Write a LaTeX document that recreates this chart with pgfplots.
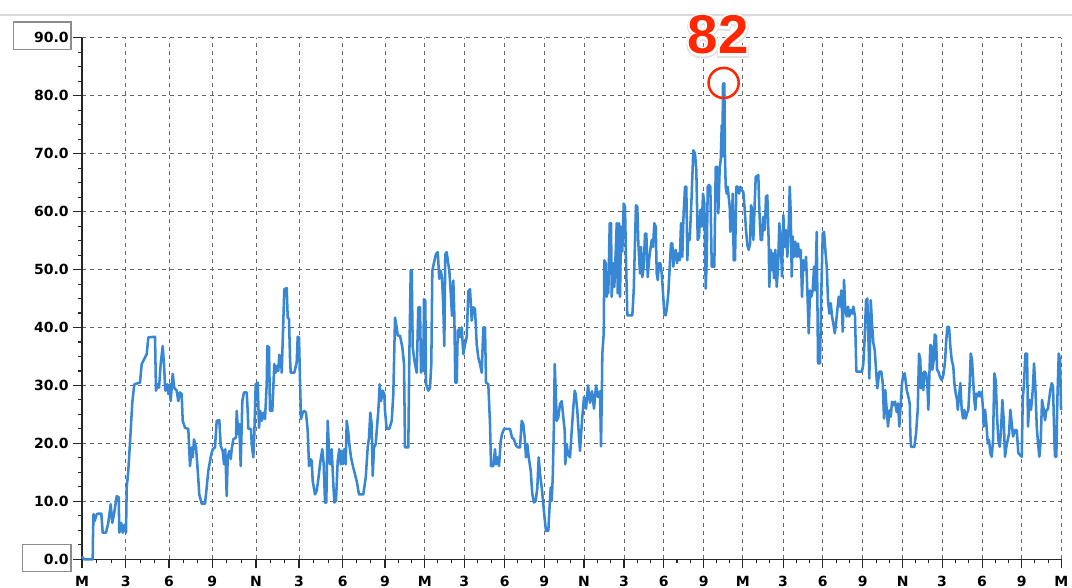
\documentclass[border=0pt]{standalone}
\usepackage{pgfplots}
\pgfplotsset{compat=1.18}
\usepackage{fontspec}
\setmainfont{DejaVu Sans}
\newfontfamily\libsans{Liberation Sans Bold}
\newfontfamily\halofont{Liberation Sans Bold}[FakeBold=8]
\newfontfamily\shadowfont{Liberation Sans Bold}[FakeBold=11]
\definecolor{lineblue}{RGB}{55,135,213}
\definecolor{annred}{RGB}{255,40,0}
\begin{document}
\begin{tikzpicture}
\useasboundingbox (-61.5pt,-21.5pt) rectangle (742.5pt,419.5pt);
\fill[white] (-61.5pt,-21.5pt) rectangle (742.5pt,419.5pt);
\draw[black!14, line width=1.2pt] (-61.5pt,408.2pt) -- (742.5pt,408.2pt);
\draw[black!45, line width=0.8pt] (-51.5pt,382.5pt) rectangle (-8.25pt,403pt);
\draw[black!45, line width=0.8pt] (-44.5pt,-8.8pt) rectangle (-8.25pt,11.25pt);
\begin{axis}[
  at={(0pt,0pt)}, anchor=south west,
  scale only axis, width=734.5pt, height=391.2pt,
  xmin=82, xmax=1061.3, ymin=0, ymax=90,
  axis lines=left, axis line style={-, draw=black!85, line width=1.1pt},
  xtick={82,125.7,169,212.3,256,299,342.7,385,424.7,464.3,504.7,544.3,584,624,663.7,703.7,742.7,783,822.7,862.7,902.7,942,982,1021.7,1061.3},
  xticklabels={M,3,6,9,N,3,6,9,M,3,6,9,N,3,6,9,M,3,6,9,N,3,6,9,M},
  minor xtick={96.6,111.1,140.1,154.6,183.4,197.9,226.9,241.4,270.3,284.7,313.6,328.1,356.8,370.9,398.2,411.5,437.9,451.1,477.8,491.2,517.9,531.1,557.5,570.8,597.3,610.7,637.2,650.5,677,690.4,716.7,729.7,756.1,769.6,796.2,809.5,836,849.4,876,889.4,915.8,928.9,955.3,968.7,995.2,1008.5,1034.9,1048.1},
  ytick={0,10,20,30,40,50,60,70,80,90},
  yticklabels={0.0,10.0,20.0,30.0,40.0,50.0,60.0,70.0,80.0,90.0},
  minor y tick num=3,
  tick align=outside,
  major tick length=6.75pt, minor tick length=3pt,
  tick style={black!85, line width=0.8pt},
  grid=major,
  major grid style={black!60, line width=0.75pt, dash pattern=on 3pt off 3pt},
  xticklabel style={font=\fontsize{10.5}{12}\selectfont\bfseries, anchor=north, inner sep=0pt, yshift=-5.5pt},
  yticklabel style={font=\fontsize{10.5}{12}\selectfont\bfseries, anchor=east, inner sep=0pt, xshift=-3pt},
  clip=false,
]
\addplot[lineblue, line width=1.9pt, line join=round] coordinates {
(82,0.5) (84,0) (92.7,0) (93,4) (93.5,7.8) (94.7,6.6) (96.7,7.8) (99.3,7.9) (101.3,7.9) (102.7,4.6) (106,4.6) (108.3,6.3) (110.7,9.5) (112.3,6.3) (114.3,8.1) (116.7,10.9) (118.7,10.7) (119.3,4.6) (121.3,6.3) (122.7,4.6) (124.7,6.0) (126,4.6) (126.7,12.4) (128.3,15.3) (130.7,22.2) (132.3,27.1) (134.3,30.2) (140,30.5) (141.7,33.7) (146.7,35.4) (148.3,38.3) (155,38.4) (156,29.1) (157.7,30.2) (159,29.6) (160.7,33.7) (162.7,36.8) (164,33.7) (165.3,29.1) (167.3,30.2) (168.3,28.5) (170,30.2) (170.7,27.3) (172.7,32.0) (174.3,29.6) (176.7,29.1) (178.3,27.3) (180,28.8) (181.7,28.5) (182.7,23.9) (185,22.7) (188.3,22.5) (190,16.1) (191.7,19.3) (192.7,17.6) (194,20.7) (196,19.3) (197.3,16.4) (199.3,11.2) (201.7,9.6) (205,9.6) (206.7,12.4) (208.3,15.3) (210.7,17.6) (212.7,19.0) (215,19.3) (216.7,23.9) (219.3,24.0) (220.7,19.6) (222.7,18.7) (224,16.4) (225.3,19.0) (226.7,10.9) (227.7,17.6) (229.3,18.7) (230.7,17.3) (231.7,19.0) (233.3,20.7) (236,21.0) (236.7,25.6) (238.3,21.6) (239.3,23.3) (240.7,16.1) (242.3,27.3) (244,28.8)
(246.7,28.8) (247.7,25.6) (248.3,22.5) (251,22.5) (251.7,19.9) (253.3,17.6) (254.3,21.6) (255.7,30.2) (257.7,30.5) (259,22.7) (260.3,25.6) (261.7,23.9) (263.3,25.3) (265,24.2) (266.7,30.2) (267.3,36.8) (269,36.6) (270,25.6) (272.3,25.6) (274.3,33.7) (275.7,32.2) (277,33.4) (278.3,32.5) (279.3,35.3) (281,34.8) (281.7,32.2) (283,39.4) (284.3,46.6) (286.7,46.8) (287.7,41.7) (289,41.5) (290,34.8) (290.7,32.2) (294.3,32.2) (296.7,34.0) (297.7,38.4) (299,38.3) (300,30.8) (301,24.2) (302.7,25.3) (304.3,25.6) (306,25.3) (307.7,22.2) (309,16.1) (310.3,17.3) (311.7,17.0) (312.7,13.5) (315,11.2) (316.7,11.8) (318.3,13.8) (320,16.4) (321,17.6) (322.3,19.0) (323.7,16.4) (325,9.8) (326.3,9.8) (327.7,23.9) (329,18.7) (330,16.4) (331.7,19.0) (333,14.1) (334.3,9.8) (336,10.1) (337.7,17.0) (339.3,19.0) (340.7,16.4) (341.7,18.7) (342.7,16.4) (344.3,19.0) (345.7,16.4) (346.7,23.9) (348.3,21.9) (349.3,19.9) (351,17.6) (353.3,15.8) (356.7,13.5) (359,11.2) (363.3,11.2) (365.7,14.1) (367.7,19.3) (369,21.0) (370.3,25.3) (371.7,23.3) (372.7,14.4) (374,19.3) (375.7,19.9) (376.7,22.2) (378.3,25.6) (379.7,30.2) (381,27.3) (382.7,29.1) (384.3,28.5) (385,25.6) (386.7,22.5) (389.3,22.5) (391.7,23.9) (393.3,28.5) (395,41.7) (396.7,40.0) (397.7,38.6) (400,38.6) (402.3,36.6) (404,33.7) (405,19.3) (408.3,19.3) (409.3,34.8) (410.7,49.8)
(411.7,49.8) (412.7,36.6) (414,34.8) (415,33.7) (416.7,32.2) (418.3,43.5) (420,43.5) (421,32.2) (422,37.7) (423.3,32.5) (424,44.9) (425.3,44.6) (426,30.2) (428.3,29.1) (430,29.6) (431.3,33.7) (432.3,49.8) (434,51.2) (436,52.7) (437.7,53.0) (439.3,48.4) (440.7,49.8) (442,48.6) (443.3,43.5) (444.3,36.8) (445.3,52.7) (446.7,53.0) (448.3,50.9) (449.3,49.8) (450.7,46.1) (452,42.0) (453.3,48.1) (454.3,42.3) (455.3,30.5) (456.7,30.5) (457.7,39.4) (459,39.7) (460,38.3) (461.7,40.0) (463.3,35.4) (465,37.1) (466.7,38.3) (468.3,46.3) (470,46.6) (471.7,41.2) (473.3,43.5) (475,43.2) (476.7,37.1) (478.3,34.8) (480,33.7) (481.7,32.2) (483.3,40.0) (485,40.0) (486,30.5) (488.3,30.2) (490,23.3) (491,16.1) (493.3,16.1) (495,19.0) (496,16.4) (497.3,17.6) (499,16.1) (500.7,20.4) (502,21.6) (504,22.5) (510,22.5) (512,21.0) (514,20.7) (516,19.6) (518.3,19.3) (520,19.3) (521.7,23.9) (523.3,23.3) (524.7,21.0) (526,17.6) (527.3,19.9) (528.7,17.6) (530.7,15.3) (532.3,11.2) (534,9.8) (535.7,10.1) (537.3,12.4) (538.7,17.6) (540,14.7) (541.7,12.4) (543.3,9.5) (544.7,6.9) (546,4.9) (548.3,4.9) (549.3,8.3) (550.7,12.4) (551.7,10.1) (552.7,14.1) (553.7,21.6) (554.7,33.7) (555.7,29.1) (556.7,23.9) (558.3,24.5) (560,26.8) (561.7,27.3) (563.3,24.5) (564.7,22.2) (565.3,16.4) (566.7,19.9) (568,18.1) (570,17.6) (571.7,22.2) (573.3,26.2) (574.7,29.1) (575.7,28.5) (577.3,25.6) (579,21.0) (580,18.7)
(582,24) (584,28) (586,26) (588,30) (590,27) (592,29) (594,26) (596,30) (598,28) (600,29) (601,19.5) (602,30.9)
(602.3,35.5) (603.7,39.0) (604.3,51.6) (605.7,51.1) (606.7,45.3) (607.7,48.2) (608.3,45.9) (609.7,58.0) (611,58.0) (611.7,45.3) (613.3,51.1) (614.3,47.0) (615.7,53.1) (616.7,58.0) (617.7,45.9) (619,58.0) (620,45.3) (621,57.4) (622.3,53.1) (623.7,61.4) (625,60.8) (626,51.6) (627.3,42.1) (632.3,42.1) (633.7,46.4) (635,55.1) (636,61.1) (637.3,60.8) (638.3,54.5) (640,49.3) (641,53.9) (642.3,48.7) (643.7,50.5) (645,56.2) (646.3,56.2) (647.7,48.7) (649,51.6) (650.3,53.4) (651.7,55.1) (653,53.9) (654.3,58.0) (655.7,57.4) (656.7,49.3) (657.7,48.2) (659,51.1) (660.3,51.1) (661.7,49.3) (663,45.9) (664.3,42.4) (665.7,42.1) (667,43.6) (668.3,45.9) (669.7,50.5) (671,54.5) (672.3,54.5) (673.3,50.5) (674.3,52.8) (675.7,53.4) (677,51.1) (678.3,52.8) (679.7,51.6) (681,58.0) (682.3,52.2) (683.3,58.5) (685,64.3) (686.3,64.3) (687.3,51.6) (688.3,56.2) (689.7,55.1) (691.7,63.1) (693.3,70.6) (695,70.0) (696.3,67.1) (697.7,55.1) (699,55.6) (700.3,60.3) (701.7,57.4) (703,63.1) (704.3,61.4) (705.7,46.7) (706.7,51.6) (707.7,64.3) (709,64.6) (710.3,64.3) (711.7,50.5) (714.3,50.5) (715.7,67.7) (717.3,67.7) (718.3,59.7) (719.7,67.7) (720.7,68.9) (721.7,74.9) (722.3,69.5) (723,82.1) (724.3,82.1) (725,68.9) (725.7,64.3) (726.7,63.1) (727.7,64.3) (728.3,63.1) (729.7,60.8) (730.3,56.5) (731.7,58.0) (732.7,63.1) (733.7,51.6) (735,51.6) (736.3,64.3) (737.7,64.3) (739,63.1) (740.3,64.3) (741.7,63.7)
(743.3,63.4) (744.7,60.3) (746,56.8) (747.3,54.2) (748.7,53.4) (750,54.5) (751,61.1) (752.3,60.3) (753.3,55.1) (754.3,59.7) (755.7,66.0) (758.3,66.3) (759.3,60.3) (760.7,55.1) (762,55.1) (763.3,59.1) (764.7,56.8) (766,62.6) (767.3,62.8) (768.7,54.5) (769.3,47.0) (770.7,53.4) (771.7,49.9) (772.7,52.8) (774,48.5) (775.3,53.4) (776.7,47.0) (778,50.5) (779.3,58.0) (780.7,54.5) (782,48.8) (783.3,59.4) (784.7,53.9) (786,56.8) (787.3,52.2) (788.7,57.4) (789.7,64.3) (790.7,59.7) (791.7,48.8) (792.7,55.7) (794,52.2) (795.3,54.8) (796.7,52.2) (798,54.5) (799.3,52.2) (800.7,53.4) (802,45.3) (803.3,51.6) (804.7,49.9) (806,52.2) (807.3,46.4) (808.7,39.0) (810,46.4) (811.3,45.3) (812.7,46.4) (814,50.5) (815.3,46.4) (816.7,56.5) (818,33.8) (820,33.8) (821.3,46.4) (822.7,56.2) (824,56.5) (825.3,53.4) (826.7,50.5) (828,44.7) (829.3,42.4) (830.7,44.2) (832,41.9) (833.3,40.7) (834.7,39.0) (836,40.7) (837.3,43.0) (838.7,45.3) (840,43.6) (841.3,46.4) (842.7,39.3) (844,48.2) (845.3,43.0) (846.7,41.9) (848,43.6) (849.3,41.9) (850.7,43.0) (852,42.4) (853.3,43.6) (855,41.9) (856.3,32.4) (862,32.4) (863.3,33.8) (864.7,38.4) (866,44.7) (867.3,45.0) (868.7,36.1) (869.3,31.2) (870.7,44.7) (872,40.7) (873.3,37.3) (874.7,36.1) (876,32.7) (877.3,29.5) (879.3,32.4) (881.3,32.4) (882.7,30.4) (884,24.3) (885.3,29.2) (886.7,25.7) (888,22.9) (889.3,25.7) (890.7,24.6) (892,27.2) (893.3,26.6) (895,27.2) (896.7,25.4) (898,26.9) (899.3,22.9) (900.7,26.9) (902,30.4) (903.3,31.8) (904.7,32.1)
(906.7,29.2) (908.3,28.1) (909.7,26.9) (910.3,21.7) (911,19.4) (914.3,19.4) (916,21.7) (917.7,25.8) (919,35.5) (920.3,34.4) (921,29.5) (922.3,32.1) (923.3,29.2) (924.3,32.4) (926,32.1) (927.3,30.4) (928.3,25.8) (929.3,31.5) (930.3,37.0) (931.7,36.7) (932.3,32.7) (933.7,34.4) (934.7,38.8) (936,38.5) (937,32.7) (938.3,32.4) (940,31.5) (941.7,30.9) (943.3,31.8) (945,34.1) (946,37.3) (947.3,40.1) (949,40.1) (950.3,36.7) (951.7,34.4) (953.3,33.2) (954.3,30.4) (955.7,28.6) (957,27.5) (957.7,25.8) (959,28.1) (960.3,30.4) (961.7,25.8) (963,24.3) (964.3,25.8) (965.7,24.3) (967,25.2) (968.3,25.8) (969.7,30.4) (970.7,35.5) (972,34.4) (973.3,30.4) (974.3,27.5) (975.3,25.8) (976.3,28.6) (977.7,28.1) (979,28.9) (980.3,28.1) (981.7,28.9) (983,25.8) (983.7,22.9) (985,25.8) (986.3,23.5) (987.7,20.0) (989,20.6) (990.3,18.3) (991.7,17.7) (993,20.6) (994.3,32.1) (995.7,30.9) (997,24.6) (998.3,20.6) (999.7,19.4) (1001,22.3) (1002.3,27.5) (1003.7,24.0) (1005,17.7) (1006.3,19.4) (1007.7,20.6) (1009,21.7) (1010.3,25.8) (1011.7,23.5) (1013,21.2) (1015,22.3) (1016.7,22.3) (1018.3,18.3) (1021.7,17.7) (1022.7,27.5) (1024,30.4) (1025.3,35.5) (1027,35.5) (1028,22.9) (1029.3,27.5) (1031,25.8) (1032.7,29.2) (1034,33.8) (1035.3,29.8) (1036.7,22.9) (1038,20.0) (1039.3,17.7) (1040.7,20.6) (1042,27.5) (1043.7,25.8) (1045,24.0) (1046.3,25.8) (1047.7,25.8) (1049,27.5) (1050.3,29.2) (1051.7,30.4) (1053,29.8) (1054.3,20.6) (1055,17.7) (1056.3,17.7) (1057.3,27.5) (1058.7,35.5) (1060,34.4) (1061,25.8)
};
\coordinate (lbl) at (axis cs:718,90.47);
\coordinate (pk) at (axis cs:723.6,82.2);
\end{axis}
\draw[annred, line width=1.9pt] (pk) circle[radius=11.3pt];
\node[inner sep=0pt, text=black!12, font=\shadowfont\fontsize{41}{41}\selectfont] at ([yshift=-0.8pt]lbl) {82};
\node[inner sep=0pt, text=white, font=\halofont\fontsize{41}{41}\selectfont] at (lbl) {82};
\node[inner sep=0pt, text=annred, font=\libsans\fontsize{41}{41}\selectfont] at (lbl) {82};
\end{tikzpicture}
\end{document}
